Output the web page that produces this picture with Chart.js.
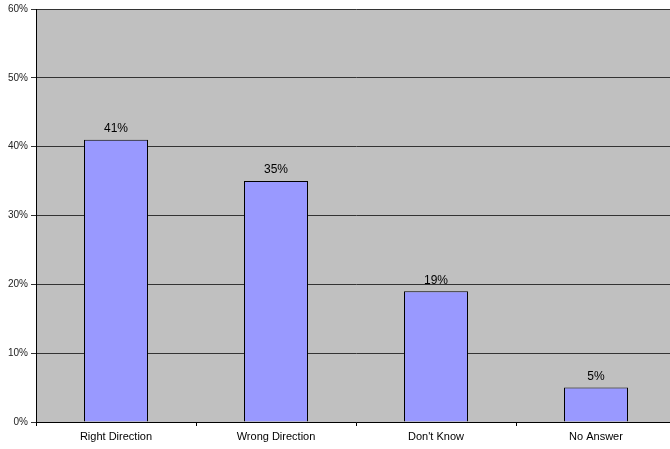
<!DOCTYPE html>
<html>
<head>
<meta charset="utf-8">
<script src="https://cdn.jsdelivr.net/npm/chart.js@4.4.0/dist/chart.umd.min.js"></script>
<style>
  html, body { margin: 0; padding: 0; background: #fff; overflow: hidden; }
  /* plot runs a few px past the right edge, like the original */
  #wrap { width: 676px; height: 449px; position: relative; }
</style>
</head>
<body>
<div id="wrap"><canvas id="chart"></canvas></div>
<script>
const categories = ["Right Direction", "Wrong Direction", "Don't Know", "No Answer"];
const values = [41, 35, 19, 5];
const yTicks = [0, 10, 20, 30, 40, 50, 60];

// grey plot area + value labels above bars
const plotBg = {
  id: "plotBg",
  beforeDraw(chart) {
    const { ctx, chartArea: a } = chart;
    ctx.save();
    ctx.fillStyle = "#C0C0C0";
    ctx.fillRect(a.left, a.top, a.right - a.left, a.bottom - a.top);
    ctx.restore();
  },
  afterDatasetsDraw(chart) {
    const { ctx } = chart;
    const meta = chart.getDatasetMeta(0);
    ctx.save();
    ctx.font = "12px 'Liberation Sans', Arial, sans-serif";
    ctx.fillStyle = "#000";
    ctx.textAlign = "center";
    ctx.textBaseline = "bottom";
    meta.data.forEach((bar, i) => {
      ctx.fillText(values[i] + "%", bar.x, bar.y - 5);
    });
    ctx.restore();
  }
};

new Chart(document.getElementById("chart"), {
  type: "bar",
  data: {
    labels: categories,
    datasets: [{
      data: values,
      backgroundColor: "#9999FF",
      borderColor: "#000",
      borderWidth: 1,
      barPercentage: 0.4,
      categoryPercentage: 1
    }]
  },
  options: {
    responsive: true,
    maintainAspectRatio: false,
    animation: false,
    layout: { padding: { top: 8, right: 0, left: 0, bottom: 0 } },
    plugins: { legend: { display: false }, tooltip: { enabled: false } },
    scales: {
      x: {
        grid: { offset: true, drawOnChartArea: false, color: "#000", tickLength: 4 },
        border: { color: "#000" },
        ticks: {
          color: "#000",
          padding: 4,
          maxRotation: 0,
          font: { family: "'Liberation Sans', Arial, sans-serif", size: 11 }
        },
        afterFit(scale) { scale.height = 27; }
      },
      y: {
        min: 0,
        max: 60,
        afterBuildTicks(scale) { scale.ticks = yTicks.map(v => ({ value: v })); },
        grid: { color: "#333", tickLength: 5 },
        border: { color: "#000" },
        ticks: {
          color: "#222",
          padding: 3,
          font: { family: "'Liberation Sans', Arial, sans-serif", size: 10 },
          callback: v => v + "%"
        },
        afterFit(scale) { scale.width = 36; }
      }
    }
  },
  plugins: [plotBg]
});
</script>
</body>
</html>
